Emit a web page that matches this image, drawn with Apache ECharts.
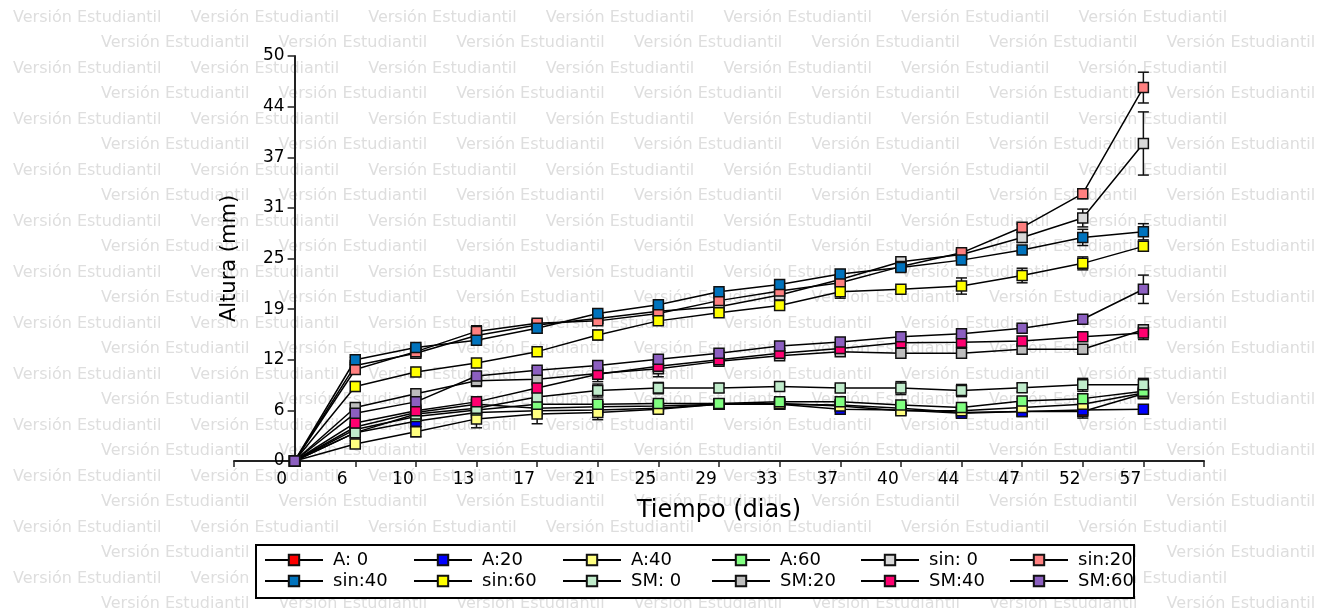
<!DOCTYPE html>
<html>
<head>
<meta charset="utf-8">
<script src="https://cdn.jsdelivr.net/npm/echarts@6/dist/echarts.min.js"></script>
<style>
  html, body { margin: 0; padding: 0; background: #fff; }
  #chart { width: 1327px; height: 611px; }
</style>
</head>
<body>
<div id="chart"></div>
<script>
// dias de medicion (eje x, equiespaciado)
var xLabels = ['0', '6', '10', '13', '17', '21', '25', '29', '33', '37', '40', '44', '47', '52', '57'];
// etiquetas del eje y (paso 6.25)
var yTickLabels = ['0', '6', '12', '19', '25', '31', '37', '44', '50'];

var seriesNames = ['A: 0', 'A:20', 'A:40', 'A:60', 'sin: 0', 'sin:20', 'sin:40', 'sin:60', 'SM: 0', 'SM:20', 'SM:40', 'SM:60'];

// altura media (mm)
var a0    = [0, 4.2, 6.0, 7.0, 6.5, 6.7, 6.8, 7.0, 7.0, 6.9, 6.5, 6.0, 6.1, 6.1, 8.3];
var a20   = [0, 3.5, 4.9, 6.0, 6.2, 6.3, 6.5, 7.0, 7.0, 6.4, 6.3, 5.9, 6.1, 6.3, 6.4];
var a40   = [0, 2.1, 3.6, 5.2, 5.8, 6.0, 6.4, 7.0, 7.1, 6.8, 6.2, 6.2, 6.6, 7.0, 8.4];
var a60   = [0, 3.9, 5.5, 6.3, 7.0, 7.0, 7.1, 7.1, 7.3, 7.3, 6.9, 6.6, 7.4, 7.7, 8.6];
var sin0  = [0, 11.8, 13.3, 15.5, 16.8, 17.6, 18.5, 19.05, 20.5, 22.4, 24.6, 25.5, 27.6, 30.0, 39.2];
var sin20 = [0, 11.3, 13.5, 16.0, 17.0, 17.3, 18.2, 19.8, 21.0, 22.0, 24.0, 25.7, 28.85, 33.0, 46.1];
var sin40 = [0, 12.5, 14.0, 14.9, 16.4, 18.2, 19.3, 20.9, 21.8, 23.1, 23.9, 24.8, 26.05, 27.6, 28.3];
var sin60 = [0, 9.2, 11.0, 12.1, 13.5, 15.55, 17.3, 18.3, 19.2, 20.9, 21.2, 21.6, 22.9, 24.4, 26.5];
var sm0   = [0, 3.5, 5.8, 6.5, 7.9, 8.7, 9.0, 9.0, 9.2, 9.0, 9.0, 8.7, 9.05, 9.4, 9.4];
var sm20  = [0, 6.6, 8.3, 9.9, 10.1, 10.8, 11.4, 12.3, 13.0, 13.5, 13.3, 13.3, 13.8, 13.8, 16.2];
var sm40  = [0, 4.7, 6.2, 7.3, 9.0, 10.7, 11.7, 12.5, 13.3, 13.9, 14.6, 14.65, 14.8, 15.35, 15.8];
var sm60  = [0, 5.9, 7.3, 10.5, 11.2, 11.8, 12.55, 13.3, 14.2, 14.7, 15.35, 15.7, 16.4, 17.5, 21.2];

// error (+/-)
var a0Err    = [0, 0.3, 0.3, 0.3, 0.3, 0.3, 0.3, 0.3, 0.3, 0.3, 0.3, 0.6, 0.5, 0.8, 0.4];
var a20Err   = [0, 0.3, 0.3, 0.3, 0.3, 0.3, 0.3, 0.3, 0.3, 0.3, 0.3, 0.3, 0.3, 0.3, 0.3];
var a40Err   = [0, 0.4, 0.6, 1.1, 1.2, 0.9, 0.4, 0.3, 0.3, 0.3, 0.3, 0.3, 0.4, 0.3, 0.3];
var a60Err   = [0, 0.3, 0.3, 0.3, 0.3, 0.3, 0.3, 0.3, 0.3, 0.3, 0.3, 0.3, 0.3, 0.5, 0.5];
var sin0Err  = [0, 0.3, 0.3, 0.3, 0.3, 0.3, 0.3, 0.3, 0.3, 0.4, 0.3, 0.3, 0.6, 1.1, 3.9];
var sin20Err = [0, 0.3, 0.3, 0.7, 0.4, 0.3, 0.3, 0.3, 0.3, 0.3, 0.3, 0.4, 0.4, 0.6, 1.9];
var sin40Err = [0, 0.3, 0.3, 0.3, 0.6, 0.3, 0.3, 0.3, 0.3, 0.3, 0.3, 0.3, 0.3, 1.0, 1.0];
var sin60Err = [0, 0.6, 0.3, 0.3, 0.3, 0.6, 0.5, 0.3, 0.3, 0.8, 0.3, 1.0, 0.9, 0.8, 0.6];
var sm0Err   = [0, 0.3, 0.3, 0.3, 0.5, 0.8, 0.7, 0.5, 0.5, 0.4, 0.8, 0.75, 0.5, 0.8, 0.8];
var sm20Err  = [0, 0.3, 0.3, 0.7, 0.3, 0.5, 1.0, 0.3, 0.3, 0.3, 0.3, 0.3, 0.4, 0.5, 0.5];
var sm40Err  = [0, 0.3, 0.3, 0.3, 0.3, 0.9, 0.6, 0.3, 0.3, 0.3, 0.3, 0.3, 0.3, 0.3, 0.8];
var sm60Err  = [0, 0.5, 0.3, 0.3, 0.3, 0.3, 0.3, 0.3, 0.3, 0.3, 0.3, 0.3, 0.3, 0.4, 1.75];

var seriesValues = [a0, a20, a40, a60, sin0, sin20, sin40, sin60, sm0, sm20, sm40, sm60];
var seriesErrors = [a0Err, a20Err, a40Err, a60Err, sin0Err, sin20Err, sin40Err, sin60Err, sm0Err, sm20Err, sm40Err, sm60Err];

var seriesColors = ['#ff0000', '#0000ff', '#ffff80', '#80ff80', '#d9d9d9', '#ff8080',
                    '#0073bd', '#ffff00', '#c0eccb', '#bdbdbd', '#ff0070', '#8c5fc0'];

var FONT = '"DejaVu Sans", Arial, sans-serif';

var chart = echarts.init(document.getElementById('chart'), null, { renderer: 'canvas' });

// barras de error
function errorBar(params, api) {
  var i = api.value(0), v = api.value(1), e = api.value(2);
  if (!e) return null;
  var hi = api.coord([i, v + e]);
  var lo = api.coord([i, v - e]);
  var hw = 5.5;
  var st = { stroke: '#111', lineWidth: 1.5 };
  return {
    type: 'group',
    children: [
      { type: 'line', shape: { x1: hi[0], y1: hi[1], x2: lo[0], y2: lo[1] }, style: st },
      { type: 'line', shape: { x1: hi[0] - hw, y1: hi[1], x2: hi[0] + hw, y2: hi[1] }, style: st },
      { type: 'line', shape: { x1: lo[0] - hw, y1: lo[1], x2: lo[0] + hw, y2: lo[1] }, style: st }
    ]
  };
}

var series = [];
seriesNames.forEach(function (name, k) {
  series.push({
    name: name + ' err',
    type: 'custom',
    renderItem: errorBar,
    encode: { x: 0, y: 1 },
    data: seriesValues[k].map(function (v, i) { return [i, v, seriesErrors[k][i]]; }),
    z: 2
  });
  series.push({
    name: name,
    type: 'line',
    symbol: 'rect',
    symbolSize: 10,
    data: seriesValues[k].map(function (v, i) { return [i, v]; }),
    lineStyle: { color: '#000', width: 1.5 },
    itemStyle: { color: seriesColors[k], borderColor: '#111', borderWidth: 1.5 },
    z: 3
  });
});

// marca de agua
var watermark = [];
for (var r = 0; r < 24; r++) {
  var wy = 17.5 + 25.5 * r;
  for (var wx = (r % 2 ? 101 : 13); wx + 152 <= 1327; wx += 177.6) {
    watermark.push({
      type: 'text', x: wx, y: wy, z: -10, silent: true,
      style: { text: 'Versión Estudiantil', font: '16px ' + FONT, fill: '#dedede', textVerticalAlign: 'middle' }
    });
  }
}
watermark.push({
  type: 'rect', z: 1, silent: true,
  shape: { x: 256, y: 545, width: 878, height: 53 },
  style: { fill: '#fff', stroke: '#000', lineWidth: 2 }
});

var legendBase = {
  orient: 'horizontal',
  left: 264,
  padding: 0,
  itemWidth: 58,
  itemHeight: 13,
  itemGap: 10,
  selectedMode: false,
  textStyle: { fontFamily: FONT, fontSize: 18, color: '#000', width: 70, lineHeight: 18, padding: [0, 0, 0, 5] }
};

var option = {
  animation: false,
  backgroundColor: '#fff',
  graphic: watermark,
  grid: { left: 234, right: 123, top: 56, bottom: 150, containLabel: false },
  legend: [
    Object.assign({}, legendBase, { top: 551, data: seriesNames.slice(0, 6) }),
    Object.assign({}, legendBase, { top: 572, data: seriesNames.slice(6) })
  ],
  xAxis: {
    type: 'value',
    min: -1,
    max: 15,
    interval: 1,
    name: 'Tiempo (dias)',
    nameLocation: 'middle',
    nameGap: 38,
    nameTextStyle: { fontFamily: FONT, fontSize: 24, color: '#000' },
    axisLine: { onZero: false, lineStyle: { color: '#222', width: 2 } },
    axisTick: { length: 6, lineStyle: { color: '#222', width: 1.5 } },
    axisLabel: {
      fontFamily: FONT, fontSize: 17, color: '#000', margin: 10,
      padding: [0, 26, 0, 0],
      showMinLabel: true, showMaxLabel: true,
      formatter: function (v) { return xLabels[v] !== undefined ? xLabels[v] : ''; }
    },
    splitLine: { show: false }
  },
  yAxis: {
    type: 'value',
    min: 0,
    max: 50,
    interval: 6.25,
    offset: -60.6,
    name: 'Altura (mm)',
    nameLocation: 'middle',
    nameGap: 55,
    nameTextStyle: { fontFamily: FONT, fontSize: 21, color: '#000' },
    axisLine: { show: true, onZero: false, lineStyle: { color: '#222', width: 2 } },
    axisTick: { show: true, length: 7, lineStyle: { color: '#222', width: 1.5 } },
    axisLabel: {
      fontFamily: FONT, fontSize: 17, color: '#000', margin: 10,
      formatter: function (v) { return yTickLabels[Math.round(v / 6.25)]; }
    },
    splitLine: { show: false }
  },
  series: series
};

chart.setOption(option);
</script>
</body>
</html>
